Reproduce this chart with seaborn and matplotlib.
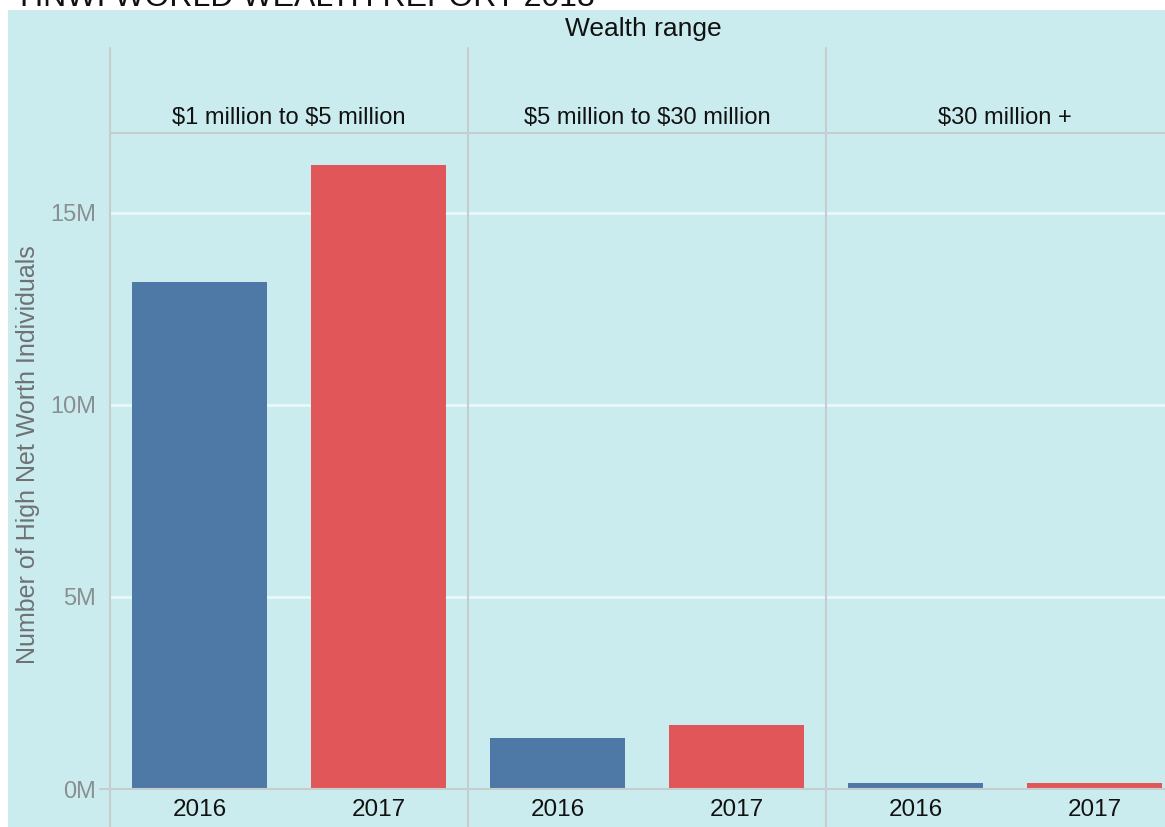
import matplotlib
matplotlib.use("Agg")
import matplotlib.pyplot as plt
import seaborn as sns
import pandas as pd
from matplotlib.patches import Rectangle
from matplotlib.lines import Line2D

# ---- data ----
wealth_ranges = ["$1 million to $5 million", "$5 million to $30 million", "$30 million +"]
years = ["2016", "2017"]
values_2016 = [13.2e6, 1.32e6, 0.16e6]
values_2017 = [16.25e6, 1.66e6, 0.16e6]
ytick_values = [0, 5e6, 10e6, 15e6]
ytick_labels = ["0M", "5M", "10M", "15M"]
title_text = "HNWI WORLD WEALTH REPORT 2018"
facet_title = "Wealth range"
y_title = "Number of High Net Worth Individuals"

df = pd.DataFrame({
    "range": [r for r in wealth_ranges for _ in years],
    "year": years * len(wealth_ranges),
    "value": [v for pair in zip(values_2016, values_2017) for v in pair],
})

sns.set_theme(style="white")
plt.rcParams["font.family"] = ["Liberation Sans", "DejaVu Sans"]

W, H = 1165, 827
BG = "#CBECEE"
LINE = "#C6CDCF"
palette = {"2016": "#4E79A7", "2017": "#E15759"}

fig = plt.figure(figsize=(W / 100, H / 100), dpi=100)
fig.patch.set_facecolor("white")

def fx(px):
    return px / W

def fy(py):
    return 1 - py / H

# background panel
fig.patches.append(Rectangle((fx(8), 0), fx(W - 8), fy(10), transform=fig.transFigure,
                             facecolor=BG, edgecolor="none", zorder=-5))

# clipped title at very top
fig.text(fx(20), fy(6), title_text, fontsize=23, color="#111111", va="baseline", ha="left")

left0 = 110
facet_w = 358
top_px, bot_px = 133, 789
ymax = 17.08e6

for i, rng in enumerate(wealth_ranges):
    ax = fig.add_axes([fx(left0 + i * facet_w), fy(bot_px), fx(facet_w), (bot_px - top_px) / H])
    ax.set_facecolor("none")
    sub = df[df["range"] == rng]
    sns.barplot(data=sub, x="year", y="value", hue="year", palette=palette, order=years,
                hue_order=years, width=0.75, legend=False, ax=ax, saturation=1, zorder=3,
                linewidth=0, edgecolor="none")
    ax.set_xlim(-0.5, 1.5)
    ax.set_ylim(0, ymax)
    ax.set_yticks(ytick_values)
    for t in ytick_values[1:]:
        ax.axhline(t, color="#EEF9FA", lw=2.0, alpha=0.9, zorder=1)
    for s in ax.spines.values():
        s.set_visible(False)
    ax.set_xlabel("")
    ax.set_ylabel("")
    ax.tick_params(axis="x", length=0, labelsize=17.5, colors="#111111", pad=7)
    ax.set_xticks([0, 1])
    ax.set_xticklabels(years)
    ax.set_xticks([0.5], minor=True)
    ax.tick_params(axis="x", which="minor", length=7, color="white", width=1.5)
    if i == 0:
        ax.set_yticklabels(ytick_labels, family=["Liberation Sans Narrow", "Liberation Sans", "DejaVu Sans"])
        ax.tick_params(axis="y", length=10, color="white", width=1.5, labelsize=17,
                       labelcolor="#8A8F91", pad=0)
    else:
        ax.tick_params(axis="y", length=0, labelleft=False)
    # strip label
    fig.text(fx(left0 + i * facet_w + facet_w / 2), fy(118), rng, ha="center", va="center",
             fontsize=17, color="#111111", parse_math=False)

# baseline
fig.add_artist(Line2D([fx(100), fx(W)], [fy(bot_px), fy(bot_px)], transform=fig.transFigure,
                      color=LINE, lw=1.5, zorder=5))
# strip bottom line
fig.add_artist(Line2D([fx(left0), fx(W)], [fy(top_px), fy(top_px)], transform=fig.transFigure,
                      color=LINE, lw=1.5, zorder=5))
# vertical separators
for i in range(3):
    x = left0 + i * facet_w
    fig.add_artist(Line2D([fx(x), fx(x)], [fy(48), 0], transform=fig.transFigure,
                          color=LINE, lw=1.5, zorder=5))

fig.text(fx(643), fy(29), facet_title, ha="center", va="center", fontsize=19, color="#111111")
fig.text(fx(28), fy(455), y_title, ha="center", va="center", rotation=90, fontsize=18,
         color="#6E7274")

fig.savefig("out.png", dpi=100)
